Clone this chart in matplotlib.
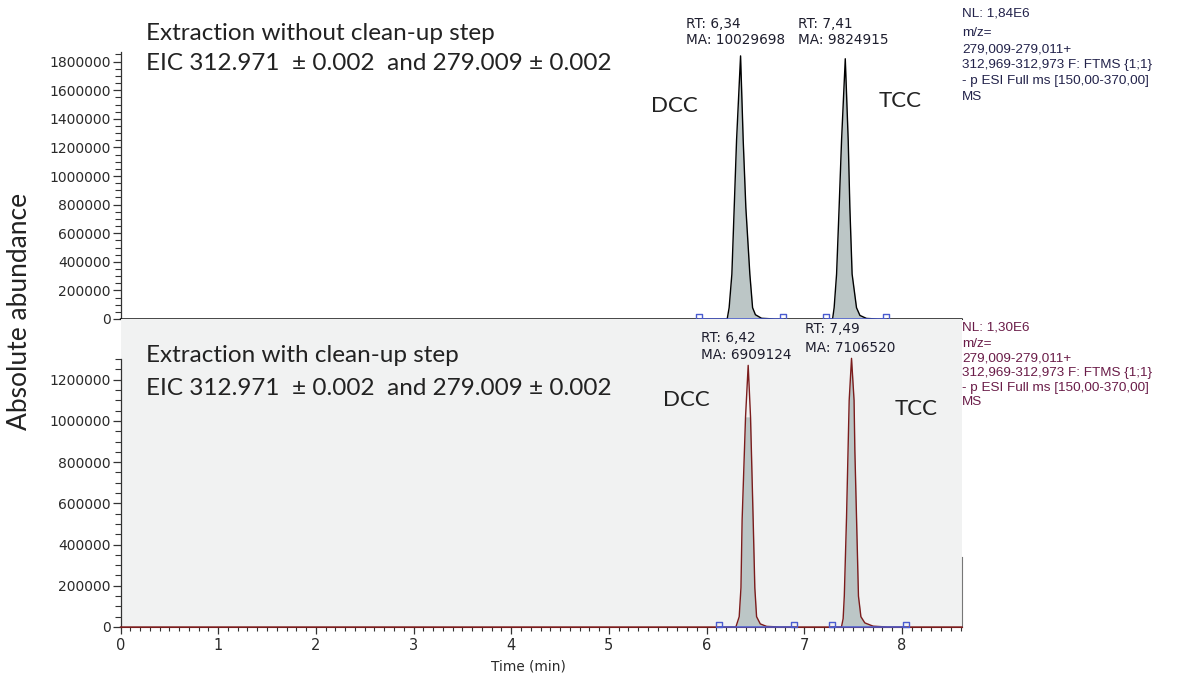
import numpy as np
import matplotlib
matplotlib.use("Agg")
import matplotlib.pyplot as plt
from matplotlib.path import Path
from matplotlib.ticker import FixedLocator

# ---------------- data ----------------
run_start, run_end = 0.0, 8.615

# top panel: extraction without clean-up (time in min, abundance)
top_dcc_t = [6.10, 6.211, 6.231, 6.259, 6.283, 6.307, 6.348, 6.375, 6.402, 6.443, 6.471, 6.50, 6.563, 6.70]
top_dcc_i = [0, 0, 79000, 314000, 780000, 1250000, 1840000, 1250000, 780000, 314000, 79000, 30000, 5000, 0]
top_tcc_t = [7.15, 7.29, 7.306, 7.331, 7.357, 7.382, 7.420, 7.450, 7.467, 7.490, 7.535, 7.57, 7.637, 7.75]
top_tcc_i = [0, 0, 79000, 314000, 780000, 1250000, 1820000, 1250000, 780000, 314000, 79000, 25000, 4000, 0]
top_bounds = [[5.925, 6.78], [7.218, 7.835]]

# bottom panel: extraction with clean-up
bot_dcc_t = [6.10, 6.30, 6.334, 6.352, 6.364, 6.399, 6.426, 6.450, 6.477, 6.494, 6.512, 6.55, 6.614, 6.75]
bot_dcc_i = [0, 0, 50000, 190000, 520000, 1020000, 1270000, 1020000, 520000, 190000, 50000, 15000, 3000, 0]
bot_tcc_t = [7.20, 7.381, 7.398, 7.410, 7.433, 7.460, 7.484, 7.510, 7.518, 7.535, 7.555, 7.58, 7.62, 7.705, 7.85]
bot_tcc_i = [0, 0, 40000, 150000, 535000, 1100000, 1304000, 1100000, 859000, 535000, 150000, 50000, 20000, 4000, 0]
bot_bounds = [[6.126, 6.893], [7.283, 8.04]]
bot_dcc_fill_top = 1020000

top_yticks = [0, 200000, 400000, 600000, 800000, 1000000, 1200000, 1400000, 1600000, 1800000]
bot_yticks = [0, 200000, 400000, 600000, 800000, 1000000, 1200000]
x_ticks = [0, 1, 2, 3, 4, 5, 6, 7, 8]

top_title = ["Extraction without clean-up step", "EIC 312.971  \u00b1 0.002  and 279.009 \u00b1 0.002"]
bot_title = ["Extraction with clean-up step", "EIC 312.971  \u00b1 0.002  and 279.009 \u00b1 0.002"]
top_rt = [("RT: 6,34", "MA: 10029698"), ("RT: 7,41", "MA: 9824915")]
bot_rt = [("RT: 6,42", "MA: 6909124"), ("RT: 7,49", "MA: 7106520")]
top_info = ["NL: 1,84E6", "m/z=", "279,009-279,011+", "312,969-312,973 F: FTMS {1;1}",
            "- p ESI Full ms [150,00-370,00]", "MS"]
bot_info = ["NL: 1,30E6", "m/z=", "279,009-279,011+", "312,969-312,973 F: FTMS {1;1}",
            "- p ESI Full ms [150,00-370,00]", "MS"]

# ---------------- figure ----------------
W, H = 1182, 677
fig = plt.figure(figsize=(W / 100, H / 100), dpi=100)
fig.patch.set_facecolor("white")

def fx(x):
    return x / W

def fy(y):
    return 1 - y / H

X0, X1 = 120.5, 962
ax1 = fig.add_axes([fx(X0), fy(319), (X1 - X0) / W, (319 - 51.6) / H])
ax2 = fig.add_axes([fx(X0), fy(627), (X1 - X0) / W, (627 - 319) / H])

FILL = "#bcc6c6"
BLUE = "#4a5cd0"
RED = "#7b1c1c"
TICKC = "#333333"
sq = Path([(-1, 0), (1, 0), (1, 1.4), (-1, 1.4), (-1, 0)],
          [Path.MOVETO, Path.LINETO, Path.LINETO, Path.LINETO, Path.CLOSEPOLY])

def trace(ax, pk1_t, pk1_i, pk2_t, pk2_i, color, bounds, cap=None):
    t = [run_start] + pk1_t + pk2_t + [run_end]
    i = [0] + pk1_i + pk2_i + [0]
    i1 = np.array(pk1_i, float)
    if cap is not None:
        i1 = np.minimum(i1, cap)
    ax.fill_between(pk1_t, i1, 0, color=FILL, lw=0, zorder=2)
    ax.fill_between(pk2_t, pk2_i, 0, color=FILL, lw=0, zorder=2)
    ax.plot(t, i, color=color, lw=1.0, zorder=3, clip_on=False)
    for b in bounds:
        ax.plot(b, [0, 0], color=BLUE, lw=1.1, zorder=4, clip_on=False)
        ax.plot(b, [0, 0], ls="none", marker=sq, ms=6.5, mfc="none", mec=BLUE,
                mew=1.0, zorder=5, clip_on=False)

trace(ax1, top_dcc_t, top_dcc_i, top_tcc_t, top_tcc_i, "black", top_bounds)
trace(ax2, bot_dcc_t, bot_dcc_i, bot_tcc_t, bot_tcc_i, RED, bot_bounds, cap=bot_dcc_fill_top)

# top axes
ax1.set_xlim(run_start, run_end)
ax1.set_ylim(0, 1870000)
for s in ["top", "right"]:
    ax1.spines[s].set_visible(False)
ax1.spines["bottom"].set_color("#555555")
ax1.spines["left"].set_color(TICKC)
ax1.spines["left"].set_linewidth(0.9)
ax1.set_xticks([])
ax1.yaxis.set_major_locator(FixedLocator(top_yticks))
ax1.set_yticklabels([str(v) for v in top_yticks])
ax1.yaxis.set_minor_locator(FixedLocator(np.arange(0, 1850001, 50000)))

# bottom axes
ax2.set_facecolor("#f1f2f2")
ax2.set_xlim(run_start, run_end)
ax2.set_ylim(0, 1495000)
ax2.spines["top"].set_visible(False)
ax2.spines["left"].set_bounds(0, 1300000)
ax2.spines["left"].set_color(TICKC)
ax2.spines["left"].set_linewidth(0.9)
ax2.spines["right"].set_bounds(0, 340000)
ax2.spines["right"].set_color("#777777")
ax2.spines["right"].set_linewidth(0.8)
ax2.spines["bottom"].set_color(RED)
ax2.yaxis.set_major_locator(FixedLocator(bot_yticks))
ax2.set_yticklabels([str(v) for v in bot_yticks])
ax2.yaxis.set_minor_locator(FixedLocator(np.arange(0, 1300001, 50000)))
ax2.xaxis.set_major_locator(FixedLocator(x_ticks))
ax2.set_xticklabels([str(v) for v in x_ticks])
ax2.xaxis.set_minor_locator(FixedLocator(np.arange(0, 8.61, 0.1)))

for ax in (ax1, ax2):
    ax.tick_params(axis="y", which="major", direction="out", length=6, width=0.9,
                   color=TICKC, labelsize=10, labelcolor="#2a2a2a", pad=1)
    ax.tick_params(axis="y", which="minor", direction="out", length=4, width=0.8, color=TICKC)
    for lab in ax.get_yticklabels():
        lab.set_family("DejaVu Sans")
ax2.tick_params(axis="x", which="major", direction="out", length=5, width=0.9,
                color=TICKC, labelsize=10.5, labelcolor="#2a2a2a", pad=3)
ax2.tick_params(axis="x", which="minor", direction="out", length=3, width=0.8, color=TICKC)

# ---------------- texts ----------------
TF = "Lato"
tsize = 17.5
def ftext(x, y, s, **kw):
    fig.text(fx(x), fy(y), s, va="baseline", ha="left", **kw)

ftext(146, 40, top_title[0], family=TF, size=tsize, color="#222222")
ftext(146, 70, top_title[1], family=TF, size=tsize, color="#222222")
ftext(146, 362, bot_title[0], family=TF, size=tsize, color="#222222")
ftext(146, 395, bot_title[1], family=TF, size=tsize, color="#222222")

ftext(651, 112, "DCC", family=TF, size=16, color="#222222")
ftext(879, 107, "TCC", family=TF, size=16, color="#222222")
ftext(663, 406, "DCC", family=TF, size=16, color="#222222")
ftext(895, 415, "TCC", family=TF, size=16, color="#222222")

rs = 9.8
for (a, b), x, y1, y2 in [(top_rt[0], 686, 28.5, 43.5), (top_rt[1], 798, 28.5, 43.5),
                          (bot_rt[0], 701, 342, 359.5), (bot_rt[1], 805, 333.5, 351.5)]:
    ftext(x, y1, a, family="DejaVu Sans", size=rs, color="#1e1e2e")
    ftext(x, y2, b, family="DejaVu Sans", size=rs, color="#1e1e2e")

isz = 9.7
top_info_y = [17, 36.5, 52.5, 68, 84, 100]
bot_info_y = [331, 347, 361.5, 376, 390.5, 405]
for line, y in zip(top_info, top_info_y):
    ftext(962, y, line, family="Liberation Sans", size=isz, color="#22224a")
for line, y in zip(bot_info, bot_info_y):
    ftext(962, y, line, family="Liberation Sans", size=isz, color="#6a1c48")

fig.text(fx(20), fy(311), "Absolute abundance", rotation=90, ha="center", va="center",
         family=TF, size=19, color="#222222")
fig.text(fx(528), fy(666), "Time (min)", ha="center", va="center",
         family="DejaVu Sans", size=9.8, color="#2a2a2a")

fig.savefig("out.png", dpi=100)
